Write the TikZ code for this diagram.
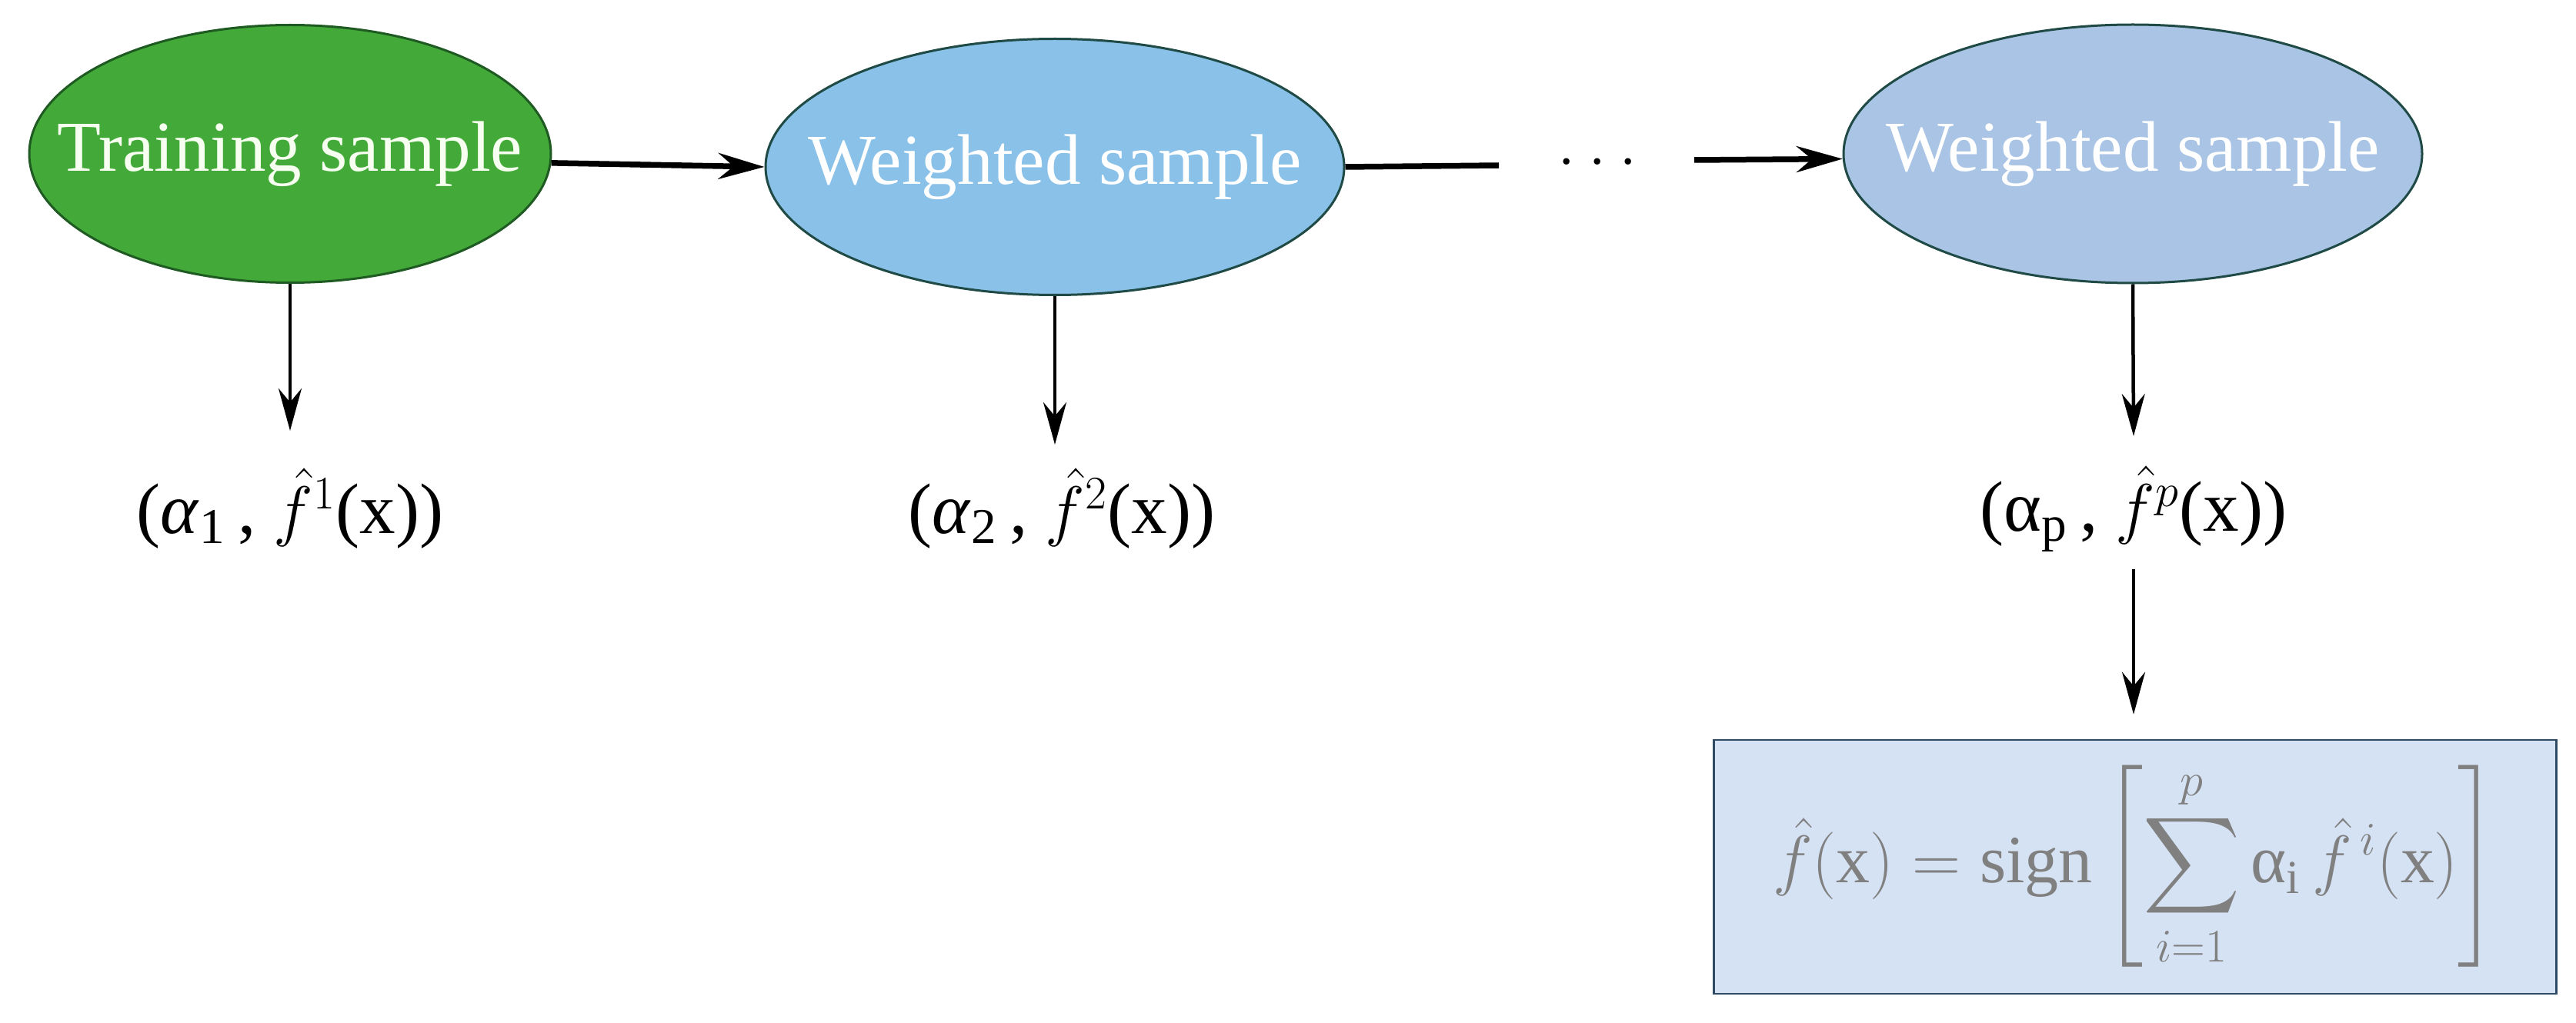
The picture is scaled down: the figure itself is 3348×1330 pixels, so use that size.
\documentclass[tikz,border=0pt]{standalone}
\usepackage{amsmath}
\usepackage{exscale}
\usepackage{fontspec}
\setmainfont{Liberation Serif}
\usetikzlibrary{shapes.geometric,arrows.meta}
\definecolor{gfill}{HTML}{43AA39}
\definecolor{gborder}{HTML}{1E5A22}
\definecolor{bfillA}{HTML}{89C1E8}
\definecolor{bfillB}{HTML}{A9C4E5}
\definecolor{bborder}{HTML}{1F4A45}
\definecolor{boxfill}{HTML}{D5E2F3}
\definecolor{boxborder}{HTML}{2E4A64}
\definecolor{formgray}{HTML}{808080}
\definecolor{gtext}{HTML}{F6FFF0}
\begin{document}
\begin{tikzpicture}[x=0.1mm, y=-0.1mm,
  ell/.style={ellipse, line width=0.3mm, inner sep=0pt, text=white,
    font=\fontsize{26.5}{30}\selectfont},
  harrow/.style={line width=0.75mm, -{Stealth[length=6mm,width=3.4mm,inset=2mm]}},
  hline/.style={line width=0.75mm},
  varrow/.style={line width=0.45mm, -{Stealth[length=5.5mm,width=3mm,inset=1.8mm]}},
  lbl/.style={inner sep=0pt, font=\fontsize{26.5}{30}\selectfont},
]
\useasboundingbox (0,0) rectangle (3348,1330);

% ellipses
\node[ell, draw=gborder, fill=gfill, text=gtext, minimum width=67.8mm, minimum height=33.5mm] (g) at (377,200)
  {\makebox[0pt]{Training sample}};
\node[ell, draw=bborder, fill=bfillA, minimum width=75.2mm, minimum height=33.3mm] (b1) at (1371,217)
  {\makebox[0pt]{Weighted sample}};
\node[ell, draw=bborder, fill=bfillB, minimum width=75.2mm, minimum height=33.6mm] (b2) at (2772,200)
  {\makebox[0pt]{Weighted sample}};

% dots
\node[inner sep=0pt, font=\fontsize{20}{24}\selectfont] (dots) at (2076,220)
  {\textperiodcentered\hspace{1.65mm}\textperiodcentered\hspace{1.65mm}\textperiodcentered};

% labels
\node[lbl, anchor=base] (l1) at (377,693) {(\textit{α}\textsubscript{1}\,, $\hat{f}^{1}$(x))};
\node[lbl, anchor=base] (l2) at (1380,693) {(\textit{α}\textsubscript{2}\,, $\hat{f}^{2}$(x))};
\node[lbl, anchor=base] (lp) at (2773,690) {(α\textsubscript{p}\,, $\hat{f}^{p}$(x))};

% result box
\node[draw=boxborder, fill=boxfill, line width=0.25mm, minimum width=109.5mm, minimum height=33mm,
  inner sep=0pt, text=formgray, font=\fontsize{25}{30}\selectfont] (box) at (2775,1127)
  {$\displaystyle \hat{f}(\text{x}) = \text{sign}\left[\sum_{i=1}^{p}\text{α}_{\text{i}}\,\hat{f}^{\,i}(\text{x})\right]$};

% connector end points
\coordinate (lend) at (1948,215);
\coordinate (astart) at (2202,208);
\coordinate (e1) at (377,560);
\coordinate (e2) at (1371,578);
\coordinate (e3) at (2773,567);

% horizontal connectors
\draw[harrow] (g.-2) -- (b1.west);
\draw[hline] (b1.east) -- (lend);
\draw[harrow] (astart) -- (b2.181);

% vertical connectors
\draw[varrow] (g.south) -- (e1);
\draw[varrow] (b1.south) -- (e2);
\draw[varrow] (b2.south) -- (e3);
\draw[varrow, shorten <=2.2mm, shorten >=3.2mm] (lp.south) -- (lp.south |- box.north);
\end{tikzpicture}
\end{document}
